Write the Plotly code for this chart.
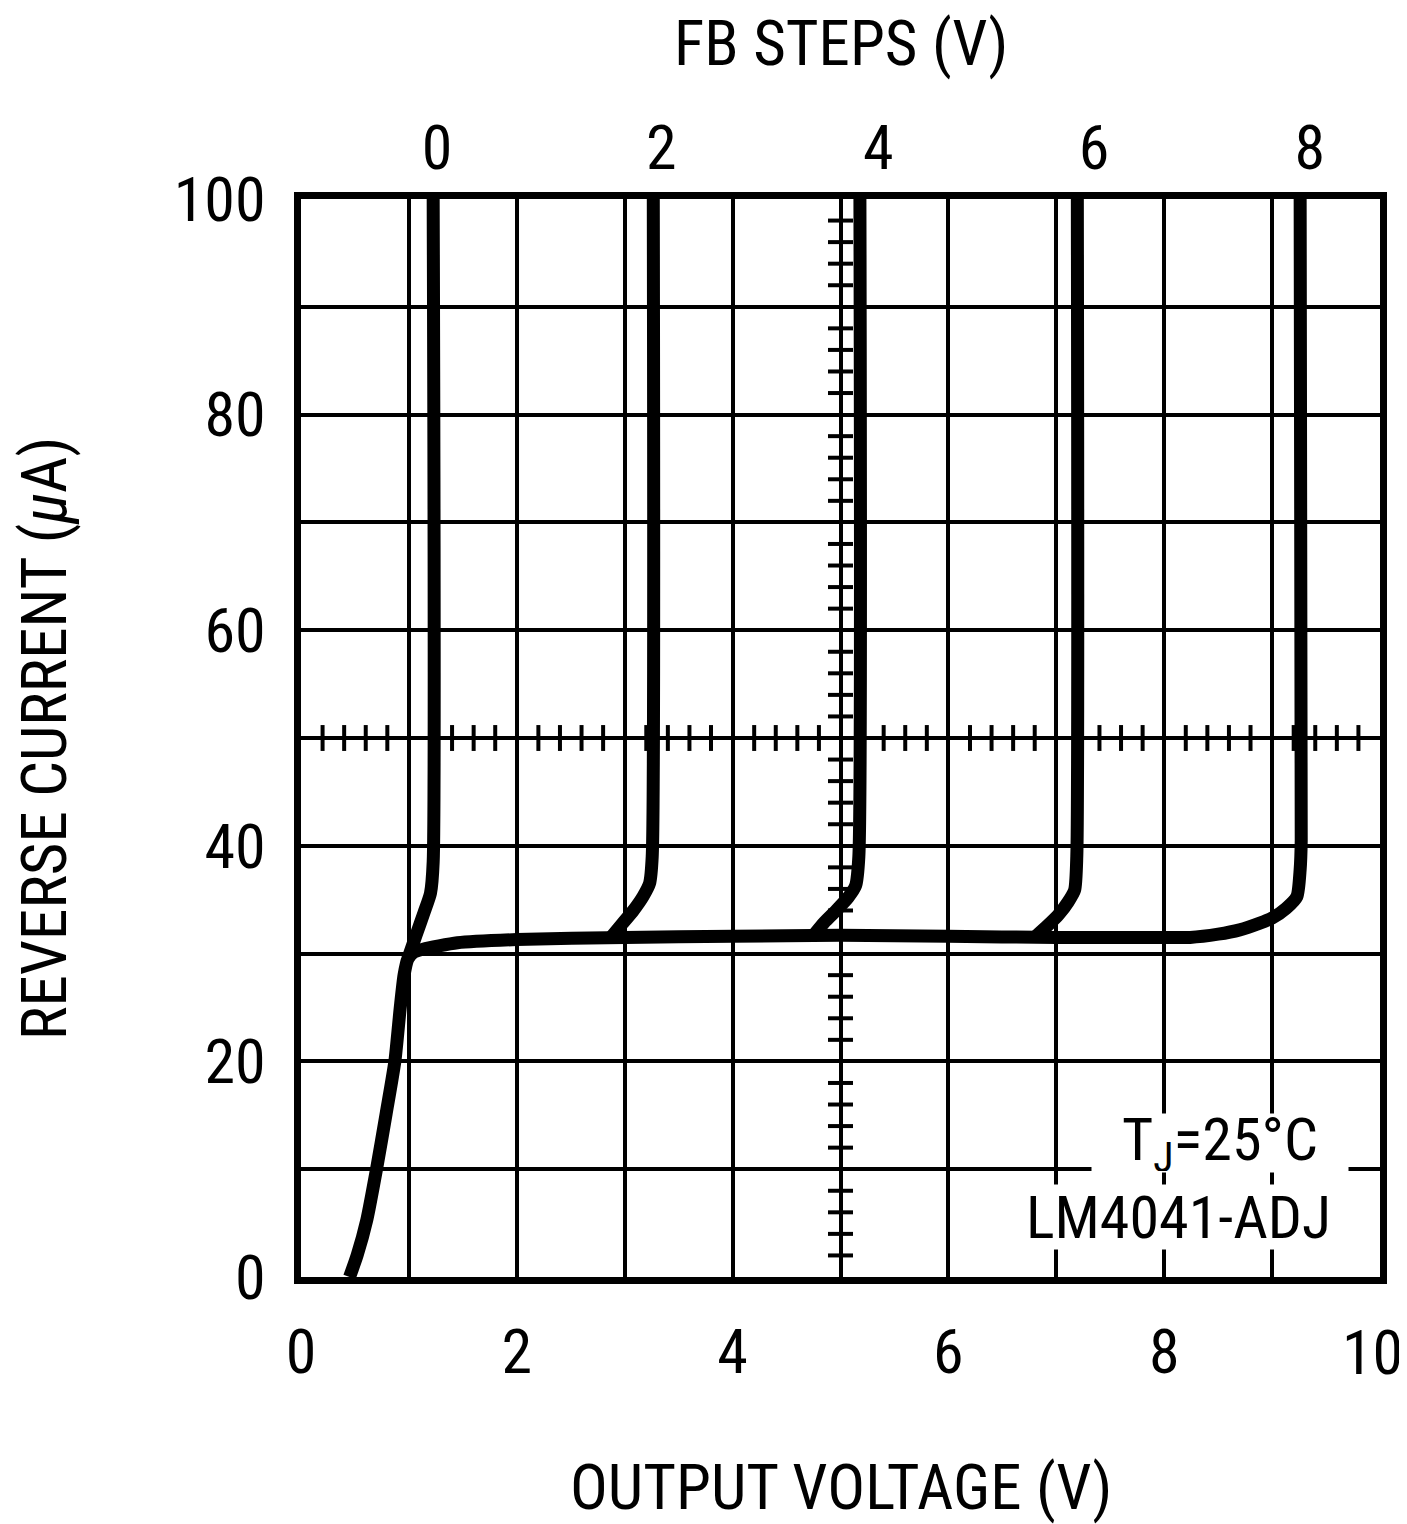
import numpy as np
import plotly.graph_objects as go

# ---------------- data ----------------
# Main curve (FB = 8 V): rises from 0 V, knee ~1 V, plateau ~31.5 uA, breakdown ~9.26 V
v_fb8 = [0.45, 0.52, 0.61, 0.70, 0.79, 0.87, 0.92, 0.955, 0.99, 1.04, 1.13, 1.45, 2.0, 3.0,
         4.0, 5.0, 6.0, 7.0, 7.8, 8.24, 8.5, 8.70, 8.88, 9.0, 9.13, 9.23, 9.26, 9.27, 9.26]
i_fb8 = [0, 2, 5.3, 10, 15.2, 20, 25.0, 28, 29.5, 30.1, 30.4, 31.0, 31.3, 31.5,
         31.6, 31.7, 31.6, 31.5, 31.5, 31.5, 31.8, 32.2, 32.8, 33.3, 34.2, 35.3, 37.8, 40.5, 100]

v_fb0 = [0.99, 1.07, 1.14, 1.20, 1.225, 1.225]
i_fb0 = [29.5, 31.8, 33.8, 35.6, 38.5, 100]

v_fb2 = [2.88, 2.98, 3.08, 3.17, 3.23, 3.255, 3.265]
i_fb2 = [31.6, 32.8, 34.0, 35.3, 36.5, 39.0, 100]

v_fb4 = [4.75, 4.85, 4.96, 5.07, 5.14, 5.17, 5.18]
i_fb4 = [31.7, 32.9, 34.0, 35.2, 36.3, 39.0, 100]

v_fb6 = [6.81, 6.92, 7.02, 7.11, 7.17, 7.19, 7.195]
i_fb6 = [31.6, 32.6, 33.6, 34.8, 35.9, 39.0, 100]

# top axis: FB step labels and the output-voltage position where each is printed
fb_labels = ["0", "2", "4", "6", "8"]
fb_label_pos = [1.26, 3.34, 5.35, 7.35, 9.35]

x_tick_vals = [0, 2, 4, 6, 8]
x_last_tick = 10
y_tick_vals = [0, 20, 40, 60, 80, 100]

FONT = "Liberation Sans Narrow, Arial Narrow, Roboto Condensed, Roboto, sans-serif"

fig = go.Figure()

# ---- centre cross-hair tick marks (x = 5 V, y = 50 uA) ----
tx, ty = [], []
for k in range(1, 50):
    if k % 5 == 0:
        continue
    xv = k * 0.2
    tx += [xv, xv, None]
    ty += [50 - 1.2, 50 + 1.2, None]
    yv = k * 2
    tx += [5 - 0.116, 5 + 0.116, None]
    ty += [yv, yv, None]
fig.add_trace(go.Scatter(x=tx, y=ty, mode="lines", line=dict(color="black", width=4),
                         hoverinfo="skip", showlegend=False))

# ---- curves ----
for vx, iy in [(v_fb8, i_fb8), (v_fb0, i_fb0), (v_fb2, i_fb2), (v_fb4, i_fb4), (v_fb6, i_fb6)]:
    fig.add_trace(go.Scatter(x=vx, y=iy, mode="lines",
                             line=dict(color="black", width=13, shape="spline", smoothing=0.6),
                             hoverinfo="skip", showlegend=False))

# invisible trace to activate the top axis
fig.add_trace(go.Scatter(x=fb_label_pos, y=[None] * len(fb_label_pos), xaxis="x2",
                         mode="markers", showlegend=False, hoverinfo="skip"))

tick_font = dict(family=FONT, size=62, color="black")
title_font = dict(family=FONT, size=63, color="black")

fig.update_layout(
    width=1399, height=1516,
    margin=dict(l=293, r=27, t=191, b=247, autoexpand=False),
    paper_bgcolor="white", plot_bgcolor="white",
    font=dict(family=FONT, color="black"),
    xaxis=dict(
        range=[0, 10], tickvals=x_tick_vals, ticktext=[str(v) for v in x_tick_vals],
        tickfont=tick_font, ticks="", ticklabelstandoff=15,
        showgrid=True, gridcolor="black", gridwidth=4,
        minor=dict(dtick=1, showgrid=True, gridcolor="black", gridwidth=4),
        showline=True, linecolor="black", linewidth=7, mirror=True, zeroline=False,
    ),
    yaxis=dict(
        range=[0, 100], tickvals=y_tick_vals, ticktext=[str(v) for v in y_tick_vals],
        tickfont=tick_font, ticks="", ticklabelstandoff=16,
        showgrid=True, gridcolor="black", gridwidth=4,
        minor=dict(dtick=10, showgrid=True, gridcolor="black", gridwidth=4),
        showline=True, linecolor="black", linewidth=7, mirror=True, zeroline=False,
    ),
    xaxis2=dict(
        overlaying="x", side="top", range=[0, 10], anchor="y",
        tickvals=fb_label_pos, ticktext=fb_labels, tickfont=tick_font,
        ticks="", ticklabelstandoff=17, showgrid=False, showline=False, zeroline=False,
    ),
    annotations=[
        # last bottom tick label (right-anchored so it stays inside the page)
        dict(x=x_last_tick, y=0, xref="x", yref="y", text=str(x_last_tick),
             showarrow=False, xanchor="right", yanchor="middle", xshift=25, yshift=-75,
             font=tick_font),
        # axis titles
        dict(x=0.5, y=-0.195, xref="paper", yref="paper", text="OUTPUT VOLTAGE (V)",
             showarrow=False, xanchor="center", yanchor="middle", font=title_font),
        dict(x=0.5, y=1.1438, xref="paper", yref="paper", text="FB STEPS (V)",
             showarrow=False, xanchor="center", yanchor="middle", font=title_font),
        dict(x=-0.2382, y=0.5, xref="paper", yref="paper", text="REVERSE CURRENT (<i>μ</i>A)",
             textangle=-90, showarrow=False, xanchor="center", yanchor="middle", font=title_font),
        # in-plot labels
        dict(x=8.517, y=12.43, xref="x", yref="y", text="T<sub>J</sub>=25°C",
             showarrow=False, bgcolor="white", width=254, height=56,
             font=dict(family=FONT, size=60, color="black")),
        dict(x=8.133, y=5.57, xref="x", yref="y", text="LM4041-ADJ",
             showarrow=False, bgcolor="white", width=337, height=62,
             font=dict(family=FONT, size=60, color="black")),
    ],
)

fig.write_html("out.html")
